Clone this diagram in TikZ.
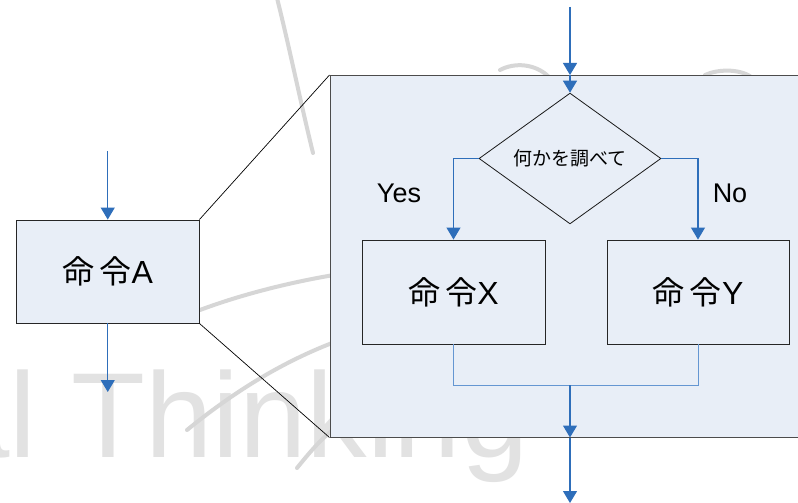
\documentclass[tikz,border=0pt]{standalone}
\usepackage{fontspec}
\setmainfont{Liberation Sans}
\newfontfamily\cjk{Noto Sans CJK JP}
\usetikzlibrary{shapes.geometric,arrows.meta,calc}
\definecolor{boxfill}{RGB}{232,238,247}
\definecolor{flow}{RGB}{46,110,186}
\definecolor{mergeblue}{RGB}{100,150,210}
\definecolor{wm}{RGB}{226,226,226}
\definecolor{wmarc}{RGB}{214,214,214}
\begin{document}
\begin{tikzpicture}[x=1pt,y=-1pt,
  cmd/.style={draw=black!85, line width=0.9pt, fill=boxfill, rectangle, inner sep=0pt,
    font=\fontsize{32}{36}\selectfont},
  bigbox/.style={draw=black!70, line width=1pt, fill=boxfill, rectangle, inner sep=0pt},
  decision/.style={draw=black!90, line width=0.8pt, fill=boxfill, diamond, inner sep=0pt,
    minimum width=182pt, minimum height=103pt, font=\cjk\fontsize{19}{22}\selectfont},
  arr/.style={draw=flow, line width=1.1pt, -{Triangle[width=14pt,length=12pt]}},
  merge/.style={draw=mergeblue, line width=1pt},
  zoomline/.style={draw=black, line width=0.7pt},
  lbl/.style={inner sep=0pt, font=\fontsize{27}{30}\selectfont},
  wmark/.style={draw=wmarc, line width=4pt, line cap=round},
  wmtext/.style={inner sep=0pt, text=wm, font=\fontsize{121}{130}\selectfont}]
\useasboundingbox (0,0) rectangle (798,503);
\clip (0,0) rectangle (798,503);
\fill[white] (0,0) rectangle (798,503);
% watermark
\node[wmtext, anchor=base west] (wm1) at (71,457) {Thinking};
\node[wmtext, anchor=base east] (wm2) at (37,457) {al};
\draw[wmark] (277,-2) .. controls (290,50) and (300,100) .. (313,153);
\draw[wmark] (200,310) .. controls (240,295) and (290,282) .. (340,274);
\draw[wmark] (187,430) .. controls (230,395) and (280,362) .. (340,340);
\draw[wmark] (297,468) .. controls (310,452) and (320,440) .. (335,428);
\draw[wmark] (500,70) .. controls (515,62) and (535,64) .. (548,76);
\draw[wmark] (705,75) .. controls (718,69) and (738,69) .. (750,76);
% nodes
\node[cmd, minimum width=182.5pt, minimum height=103pt] (A) at (107.75,271.5) {{\cjk 命}\,{\cjk 令}A};
\node[bigbox, minimum width=470pt, minimum height=361.5pt] (Z) at (565,256.25) {};
\node[decision] (D) at (570,158.5) {何かを調べて};
\node[cmd, minimum width=183pt, minimum height=104pt] (X) at (453.5,292) {{\cjk 命}\,{\cjk 令}X};
\node[cmd, minimum width=182pt, minimum height=104pt] (Y) at (698,292) {{\cjk 命}\,{\cjk 令}Y};
\node[lbl] (yes) at (399,193) {Yes};
\node[lbl] (no) at (730,193) {No};
% free ends
\coordinate (top) at (570,7);
\coordinate (m) at (570,385);
\coordinate (bottom) at (570,503);
\coordinate (ain) at (107.75,151);
\coordinate (aout) at (107.75,392);
% zoom lines
\draw[zoomline] (A.north east) -- (Z.north west);
\draw[zoomline] (A.south east) -- (Z.south west);
% connectors
\draw[arr] (ain) -- (A.north);
\draw[arr] (A.south) -- (aout);
\draw[arr] (top) -- (top |- Z.north);
\draw[arr] (top |- Z.north) -- (D.north);
\draw[arr] (D.west) -| (X.north);
\draw[arr] (D.east) -| (Y.north);
\draw[merge] (X.south) -- (X.south |- m) -- (Y.south |- m) -- (Y.south);
\draw[arr] (m) -- (m |- Z.south);
\draw[arr] (m |- Z.south) -- (bottom);
\end{tikzpicture}
\end{document}
